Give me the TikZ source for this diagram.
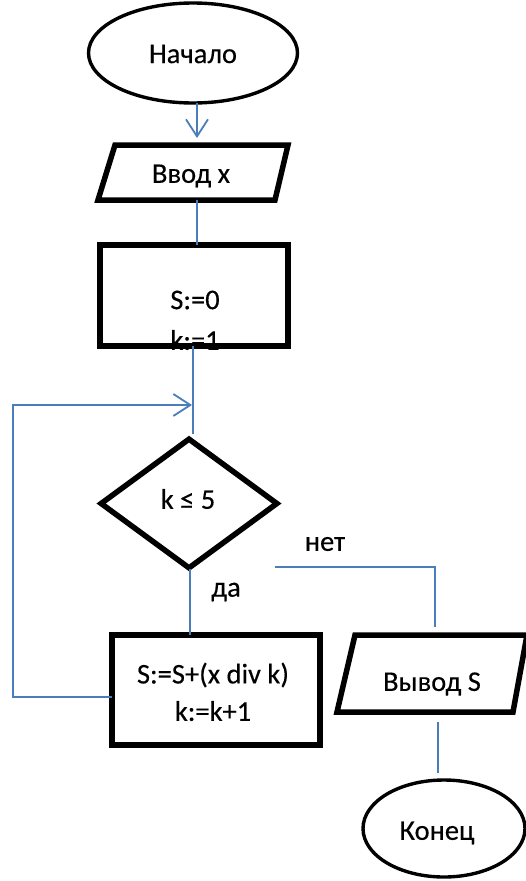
\documentclass[tikz,border=0pt]{standalone}
\usepackage{fontspec}
\setmainfont{Carlito}
\usetikzlibrary{shapes.geometric,arrows.meta}
\definecolor{lineblue}{RGB}{74,126,187}
\begin{document}
\begin{tikzpicture}[x=1pt,y=-1pt,
  conn/.style={draw=lineblue,line width=1.8pt},
  arr/.style={conn,-{Straight Barb[length=17pt,width=22pt,line width=1.8pt]}},
  txt/.style={inner sep=0pt,font=\fontsize{28.5}{40}\selectfont\addfontfeature{FakeBold=0.3}},
  termshape/.style={draw=black,line width=3.4pt,ellipse,inner sep=0pt},
  boxshape/.style={draw=black,line width=5.5pt,rectangle,inner sep=0pt},
  decshape/.style={draw=black,line width=5.5pt,diamond,inner sep=0pt},
  ioshape/.style={draw=black,line width=5.5pt,line join=miter}]
\useasboundingbox (0,0) rectangle (526,881);
\fill[white] (0,0) rectangle (526,881);
% start
\node[termshape,minimum width=209pt,minimum height=100pt] (start) at (193,53) {};
\node[txt] (starttxt) at (193,54) {Начало};
% input
\draw[ioshape] (115,145) -- (288,145) -- (275,200) -- (98,200) -- cycle;
\node[txt] (intxt) at (191,176) {Ввод x};
\coordinate (inTop) at (197,145);
\coordinate (inBot) at (197,200);
% init
\node[boxshape,minimum width=188pt,minimum height=101pt] (init) at (194,295.5) {};
\node[txt] (inittxt1) at (195,300) {S:=0};
\node[txt] (inittxt2) at (195,340) {k:=1};
% decision
\node[decshape,minimum width=178pt,minimum height=131pt] (dec) at (189,503.5) {};
\node[txt] (dectxt) at (188,499) {k ≤ 5};
% process
\node[boxshape,minimum width=208pt,minimum height=110pt] (proc) at (216,690) {};
\node[txt] (proctxt1) at (213,675) {S:=S+(x div k)};
\node[txt] (proctxt2) at (213,711) {k:=k+1};
% output
\draw[ioshape] (355,635) -- (527,635) -- (513,712) -- (337,712) -- cycle;
\node[txt] (outtxt) at (432,684) {Вывод S};
% end
\node[termshape,minimum width=162pt,minimum height=97pt] (stop) at (444,828.5) {};
\node[txt] (stoptxt) at (437,833) {Конец};
% labels
\node[txt] (da) at (226,592) {да};
\node[txt] (net) at (325,544) {нет};
% connector coordinates
\coordinate (a1) at (197,103);
\coordinate (a2) at (197,138);
\coordinate (r1) at (193,346);
\coordinate (r2) at (193,434);
\coordinate (j) at (192,405);
\coordinate (l1) at (112,697);
\coordinate (l2) at (13,697);
\coordinate (l3) at (13,405);
\coordinate (d1) at (190,569);
\coordinate (d2) at (190,635);
\coordinate (n1) at (275,567);
\coordinate (n2) at (435,567);
\coordinate (n3) at (435,627);
\coordinate (o1) at (438,722);
\coordinate (o2) at (438,773);
% connectors
\draw[arr] (a1) -- (a2);
\draw[conn] (inBot) -- (197,245);
\draw[conn] (r1) -- (r2);
\draw[arr] (l1) -- (l2) -- (l3) -- (j);
\draw[conn] (d1) -- (d2);
\draw[conn] (n1) -- (n2) -- (n3);
\draw[conn] (o1) -- (o2);
\end{tikzpicture}
\end{document}
